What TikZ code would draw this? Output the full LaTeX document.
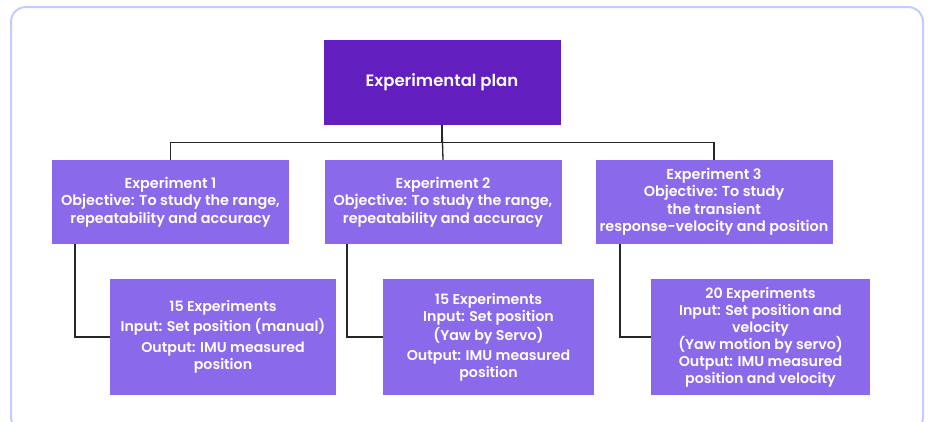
\documentclass[tikz,border=0pt]{standalone}
\usepackage{fontspec}
\setmainfont{Poppins}[BoldFont={* SemiBold}]
\usetikzlibrary{positioning}

\definecolor{planpurple}{HTML}{621EBE}
\definecolor{boxpurple}{HTML}{8A6AEB}
\definecolor{frameblue}{HTML}{C0CEFF}

\tikzset{
  planbox/.style={fill=planpurple,text=white,font=\bfseries\fontsize{16.5}{20}\selectfont,
    minimum width=237pt,minimum height=85pt,inner sep=0pt,align=center},
  expbox/.style={fill=boxpurple,text=white,font=\bfseries\fontsize{14.4}{17.5}\selectfont,
    minimum width=237pt,minimum height=84pt,inner sep=0pt,align=center},
  runbox/.style={fill=boxpurple,text=white,font=\bfseries\fontsize{14.2}{17}\selectfont,
    minimum height=116pt,inner sep=0pt,align=center},
  link/.style={line width=1.3pt,color=black!85}
}

\begin{document}
\begin{tikzpicture}[x=1pt,y=-1pt]
  \useasboundingbox (0,0) rectangle (930,421);
  \draw[frameblue,line width=2pt,rounded corners=15pt] (11,7) rectangle (923,432);

  \node[planbox] (plan) at (442,82.5) {Experimental plan};

  \node[expbox] (exp1) at (170.5,202) {Experiment 1\\Objective: To study the range,\\repeatability and accuracy};
  \node[expbox] (exp2) at (443,202) {Experiment 2\\Objective: To study the range,\\repeatability and accuracy};
  \node[expbox] (exp3) at (714,202) {Experiment 3\\Objective: To study\\the transient\\response-velocity and position};

  \node[runbox,minimum width=226pt] (run1) at (223,337) {15 Experiments\\[3pt]Input: Set position (manual)\\[4pt]Output: IMU measured\\position};
  \node[runbox,minimum width=211pt] (run2) at (488.5,337) {15 Experiments\\Input: Set position\\[2pt](Yaw by Servo)\\[3pt]Output: IMU measured\\position};
  \node[runbox,minimum width=219pt] (run3) at (760.5,337) {20 Experiments\\Input: Set position and\\velocity\\(Yaw motion by servo)\\Output: IMU measured\\position and velocity};

  % tree from the plan
  \draw[link] (plan.south) -- +(0,17) -| (exp1.north);
  \draw[link] (plan.south) -- (exp2.north);
  \draw[link] (plan.south) -- +(0,17) -| (exp3.north);

  % experiments to their runs
  \draw[link] ([xshift=-95.5pt]exp1.south) |- (run1.west);
  \draw[link] ([xshift=-96pt]exp2.south) |- (run2.west);
  \draw[link] ([xshift=-94pt]exp3.south) |- (run3.west);
\end{tikzpicture}
\end{document}
